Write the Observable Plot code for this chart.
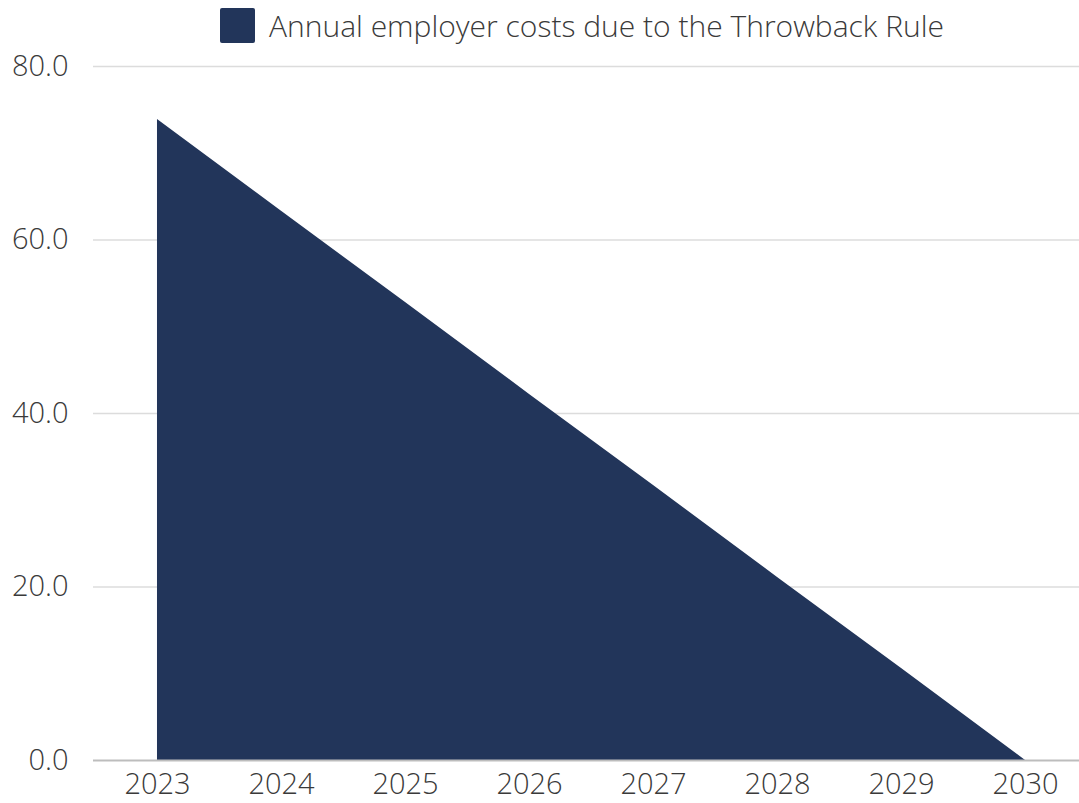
<!DOCTYPE html>
<html>
<head>
<meta charset="utf-8">
<script src="https://cdn.jsdelivr.net/npm/d3@7"></script>
<script src="https://cdn.jsdelivr.net/npm/@observablehq/plot@0.6"></script>
<style>
  html, body { margin: 0; padding: 0; background: #fff; }
  #wrap { position: relative; width: 1079px; height: 803px; }
  #legend { position: absolute; top: 0; left: 0; height: 50px; width: 1079px; display: flex; align-items: center; justify-content: center; padding-left: 85px; box-sizing: border-box; font-family: "Open Sans", sans-serif; font-size: 30px; font-weight: 300; color: #3a3a3a; }
  #legend .sw { width: 35px; height: 35px; background: #22355a; border-radius: 2px; margin-right: 14px; flex: none; }
  #chart svg { display: block; }
</style>
</head>
<body>
<div id="wrap">
<div id="chart"></div>
<div id="legend"><span class="sw"></span><span>Annual employer costs due to the Throwback Rule</span></div>
</div>
<script>
const years = [2023, 2024, 2025, 2026, 2027, 2028, 2029, 2030];
const costs = [73.9, 63.3, 52.8, 42.2, 31.7, 21.1, 10.6, 0.0];
const yTicks = [0, 20, 40, 60, 80];
const seriesName = "Annual employer costs due to the Throwback Rule";

const data = years.map((year, i) => ({ year, cost: costs[i] }));

const chart = Plot.plot({
  width: 1079,
  height: 803,
  marginLeft: 93,
  marginRight: 0,
  marginTop: 66,
  marginBottom: 43,
  style: { fontFamily: "Open Sans, sans-serif", fontSize: "29px", fontWeight: 300, color: "#3a3a3a", background: "#fff" },
  x: { domain: [2022.484, 2030.435], ticks: years, tickFormat: d => String(d), tickSize: 0, tickPadding: 13, label: null },
  y: { domain: [0, 80], ticks: yTicks, tickFormat: d3.format(".1f"), tickSize: 0, tickPadding: 25, label: null },
  marks: [
    Plot.gridY(yTicks.filter(d => d > 0), { stroke: "#dcdcdc", strokeOpacity: 1, strokeWidth: 1.5 }),
    Plot.areaY(data, { x: "year", y: "cost", fill: "#22355a", title: () => seriesName }),
    Plot.ruleY([0], { stroke: "#bdbdbd", strokeWidth: 2 }),
    Plot.axisX({ ticks: years, tickFormat: d => String(d), tickSize: 0, tickPadding: 13, fill: "#3a3a3a" }),
    Plot.axisY({ ticks: yTicks, tickFormat: d3.format(".1f"), tickSize: 0, tickPadding: 25, fill: "#3a3a3a" })
  ]
});
document.getElementById("chart").appendChild(chart);
</script>
</body>
</html>
